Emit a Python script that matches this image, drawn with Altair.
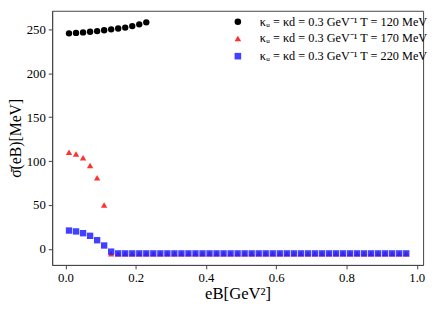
import altair as alt
import pandas as pd

labels = [
    "κᵤ = κd = 0.3 GeV⁻¹  T = 120 MeV",
    "κᵤ = κd = 0.3 GeV⁻¹  T = 170 MeV",
    "κᵤ = κd = 0.3 GeV⁻¹  T = 220 MeV",
]

x_black = [0.01, 0.03, 0.05, 0.07, 0.09, 0.11, 0.13, 0.15, 0.17, 0.19, 0.21, 0.23]
y_black = [245.5, 246.0, 246.5, 247.3, 248.0, 249.0, 250.0, 251.0, 252.0, 253.7, 255.7, 258.0]

x_all = [round(0.01 + 0.02 * i, 2) for i in range(49)]
y_red = [110, 108, 104, 95, 81, 50] + [-5.5] * 43
y_blue = [21, 20, 18, 15, 10, 4, -3] + [-5] * 42

rows = []
for x, y in zip(x_black, y_black):
    rows.append({"s": labels[0], "x": x, "y": y})
for x, y in zip(x_all, y_red):
    rows.append({"s": labels[1], "x": x, "y": y})
for x, y in zip(x_all, y_blue):
    rows.append({"s": labels[2], "x": x, "y": y})
df = pd.DataFrame(rows)

font = "Liberation Serif, Times New Roman, serif"

chart = alt.Chart(df).mark_point(filled=True, size=42).encode(
    x=alt.X("x:Q", scale=alt.Scale(domain=[-0.038, 1.018], nice=False, zero=False),
            axis=alt.Axis(values=[0, 0.2, 0.4, 0.6, 0.8, 1.0], format=".1f", title="eB[GeV²]",
                          grid=False, tickSize=4, labelPadding=3, titlePadding=1)),
    y=alt.Y("y:Q", scale=alt.Scale(domain=[-18.15, 271.15], nice=False, zero=False),
            axis=alt.Axis(values=[0, 50, 100, 150, 200, 250], title="σ̄(eB)[MeV]",
                          grid=False, tickSize=4, labelPadding=3)),
    color=alt.Color("s:N", scale=alt.Scale(domain=labels, range=["black", "#ff2020", "#2020ff"]),
                    legend=alt.Legend(title=None)),
    shape=alt.Shape("s:N", scale=alt.Scale(domain=labels, range=["circle", "triangle-up", "square"]),
                    legend=alt.Legend(title=None)),
    opacity=alt.Opacity("s:N", scale=alt.Scale(domain=labels, range=[1.0, 0.85, 0.85]), legend=None),
).properties(
    width=378, height=259,
    autosize=alt.AutoSizeParams(type="none"),
    padding={"left": 45, "top": 0, "right": 5, "bottom": 39},
).configure_view(
    stroke="#444", strokeWidth=1
).configure_axis(
    labelFont=font, titleFont=font, labelFontSize=13, titleFontSize=17,
    titleFontWeight="normal", labelColor="black", titleColor="black",
    domainColor="#444", tickColor="#444",
).configure_legend(
    orient="none", legendX=183, legendY=5, labelFont=font, labelFontSize=12.5, labelLimit=0,
    symbolSize=45, rowPadding=4, labelOffset=16, symbolOpacity=1,
).configure_axisY(titleX=-29, titleFontSize=16)

chart.save("out.html", embed_options={"renderer": "svg", "actions": False})
